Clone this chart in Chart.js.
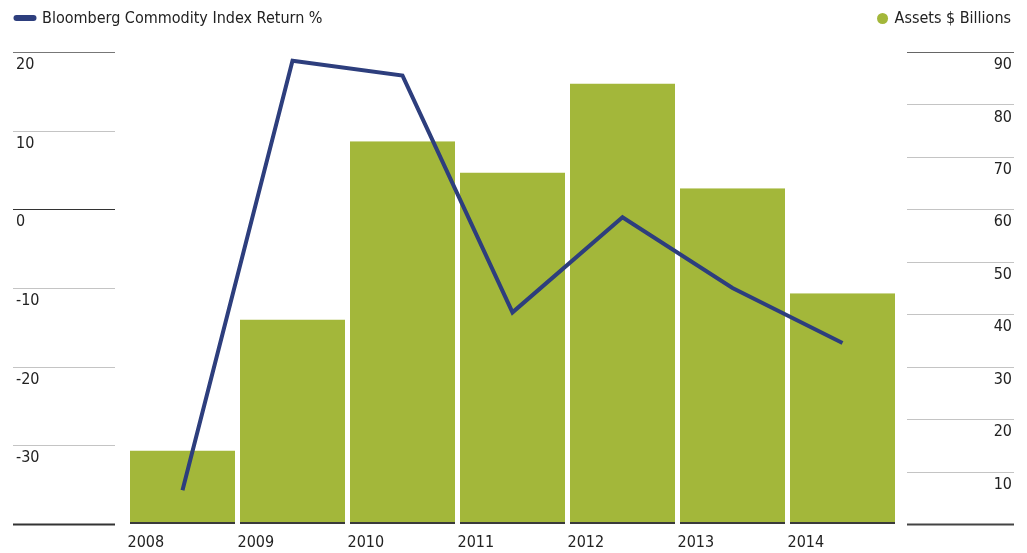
<!DOCTYPE html>
<html>
<head>
<meta charset="utf-8">
<script src="https://cdn.jsdelivr.net/npm/chart.js@4/dist/chart.umd.min.js"></script>
<style>
  html, body { margin: 0; padding: 0; background: #fff; overflow: hidden; }
  canvas { display: block; }
</style>
</head>
<body>
<canvas id="commodityChart" width="1027" height="553"></canvas>
<script>
const years = ['2008', '2009', '2010', '2011', '2012', '2013', '2014'];
const indexReturn = [-35.7, 18.9, 17.0, -13.1, -1.0, -10.0, -17.0];
const assets = [14, 39, 73, 67, 84, 64, 44];
const leftTicks = [-40, -30, -20, -10, 0, 10, 20];
const rightTicks = [0, 10, 20, 30, 40, 50, 60, 70, 80, 90];

const FONT = "'Liberation Sans Narrow', 'DejaVu Sans Condensed', sans-serif";
const NAVY = '#2d3e7d';
const GREEN = '#a3b73a';

// short gridlines sitting in the side margins, plus the two-sided legend
const sideRules = {
    id: 'sideRules',
    afterDraw(chart) {
        const ctx = chart.ctx;
        const yl = chart.scales.yLeft, yr = chart.scales.yRight;
        ctx.save();
        yl.ticks.forEach(t => {
            const y = Math.round(yl.getPixelForValue(t.value)) + 0.5;
            ctx.strokeStyle = (t.value === 0 || t.value === -40) ? '#333' : (t.value === 20 ? '#777' : '#c4c4c4');
            ctx.lineWidth = (t.value === -40) ? 2 : 1;
            ctx.beginPath(); ctx.moveTo(13, y); ctx.lineTo(115, y); ctx.stroke();
        });
        yr.ticks.forEach(t => {
            const y = Math.round(yr.getPixelForValue(t.value)) + 0.5;
            ctx.strokeStyle = (t.value === 0) ? '#444' : (t.value === 90 ? '#666' : '#c4c4c4');
            ctx.lineWidth = (t.value === 0) ? 2 : 1;
            ctx.beginPath(); ctx.moveTo(907, y); ctx.lineTo(1014, y); ctx.stroke();
        });

        const ds = chart.data.datasets;
        ctx.font = '16px ' + FONT;
        ctx.textBaseline = 'middle';
        ctx.fillStyle = '#222';
        // line series, top left
        ctx.strokeStyle = ds[0].borderColor;
        ctx.lineWidth = 6;
        ctx.lineCap = 'round';
        ctx.beginPath(); ctx.moveTo(16.5, 18); ctx.lineTo(33.5, 18); ctx.stroke();
        ctx.textAlign = 'left';
        ctx.fillText(ds[0].label, 42, 19);
        // bar series, top right
        ctx.textAlign = 'right';
        ctx.fillText(ds[1].label, 1011, 19);
        const w = ctx.measureText(ds[1].label).width;
        ctx.fillStyle = ds[1].backgroundColor;
        ctx.beginPath(); ctx.arc(1011 - w - 12, 18.5, 5.5, 0, Math.PI * 2); ctx.fill();
        ctx.restore();
    }
};

new Chart(document.getElementById('commodityChart'), {
    data: {
        labels: years,
        datasets: [{
            type: 'line',
            label: 'Bloomberg Commodity Index Return %',
            data: indexReturn,
            yAxisID: 'yLeft',
            borderColor: NAVY,
            backgroundColor: NAVY,
            borderWidth: 4,
            pointRadius: 0,
            tension: 0,
            order: 0
        }, {
            type: 'bar',
            label: 'Assets $ Billions',
            data: assets,
            yAxisID: 'yRight',
            backgroundColor: GREEN,
            borderColor: '#3a3a3a',
            borderWidth: { top: 0, left: 0, right: 0, bottom: 2 },
            borderSkipped: false,
            barPercentage: 0.955,
            categoryPercentage: 1,
            order: 1
        }]
    },
    options: {
        responsive: false,
        animation: false,
        layout: { padding: { top: 52, right: 15, left: 16, bottom: 0 } },
        plugins: {
            legend: { display: false },
            tooltip: { enabled: false }
        },
        scales: {
            x: {
                grid: { display: false },
                border: { display: false },
                afterFit: s => { s.height = 29; },
                ticks: {
                    align: 'start',
                    labelOffset: -55,
                    padding: 1,
                    color: '#222',
                    font: { family: FONT, size: 16 }
                }
            },
            yLeft: {
                position: 'left',
                min: -40, max: 20,
                afterBuildTicks: s => { s.ticks = leftTicks.map(v => ({ value: v })); },
                afterFit: s => { s.width = 111.5; },
                grid: { display: false, drawTicks: false },
                border: { display: false },
                ticks: {
                    crossAlign: 'far',
                    padding: 3,
                    labelOffset: 13,
                    color: '#222',
                    font: { family: FONT, size: 16 },
                    callback: v => (v === -40 ? '' : v)
                }
            },
            yRight: {
                position: 'right',
                min: 0, max: 90,
                afterBuildTicks: s => { s.ticks = rightTicks.map(v => ({ value: v })); },
                afterFit: s => { s.width = 114.5; },
                grid: { display: false, drawTicks: false },
                border: { display: false },
                ticks: {
                    crossAlign: 'far',
                    padding: 3,
                    labelOffset: 13,
                    color: '#222',
                    font: { family: FONT, size: 16 },
                    callback: v => (v === 0 ? '' : v)
                }
            }
        }
    },
    plugins: [sideRules]
});
</script>
</body>
</html>
